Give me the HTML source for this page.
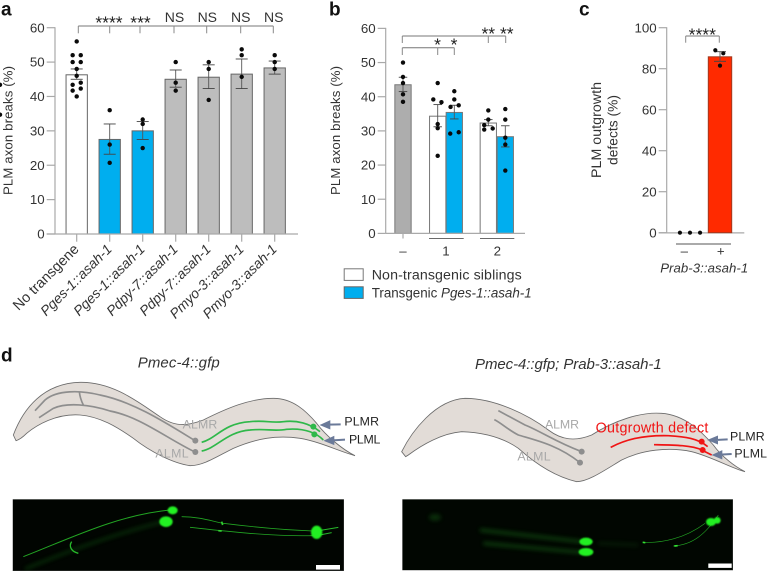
<!DOCTYPE html>
<html lang="en">
<head>
<meta charset="utf-8">
<title>PLM axon breaks figure</title>
<style>
html,body{margin:0;padding:0;background:#fff;}
#fig{display:block;width:768px;height:571px;font-family:"Liberation Sans",sans-serif;fill:#333;}
#fig text{font-family:"Liberation Sans",sans-serif;}
</style>
</head>
<body>
<svg id="fig" width="768" height="571" viewBox="0 0 768 571" xmlns="http://www.w3.org/2000/svg">
<defs>
<filter id="b1" x="-30%" y="-100%" width="160%" height="300%"><feGaussianBlur stdDeviation="1"/></filter>
<filter id="b2" filterUnits="userSpaceOnUse" x="0" y="400" width="1200" height="350"><feGaussianBlur stdDeviation="6"/></filter>
<filter id="b3" x="-60%" y="-60%" width="220%" height="220%"><feGaussianBlur stdDeviation="2.2"/></filter>
<clipPath id="clipL"><rect x="12.7" y="499.3" width="331.3" height="71.7"/></clipPath>
<clipPath id="clipR"><rect x="402.3" y="499.3" width="330.7" height="71"/></clipPath>
</defs>

<g id="panelA"></g>
<g id="panelB"></g>
<g id="panelC"></g>

<text x="1" y="15.7" font-size="19" font-weight="bold" fill="#111">a</text>
<text x="329" y="15.7" font-size="19" font-weight="bold" fill="#111">b</text>
<text x="579" y="15.7" font-size="19" font-weight="bold" fill="#111">c</text>
<text x="1" y="361.7" font-size="19" font-weight="bold" fill="#111">d</text>

<text x="137.7" y="367.7" font-size="15" font-style="italic" textLength="82">Pmec-4::gfp</text>
<text x="475" y="369" font-size="15" font-style="italic" textLength="186.7">Pmec-4::gfp; Prab-3::asah-1</text>

<!-- Left worm -->
<g transform="translate(0,345) scale(0.33333)">
<path d="M40,270 C70,190 130,115 240,112 C340,110 420,175 480,215 C530,250 570,240 610,225 C680,190 750,160 820,160 C880,160 920,200 950,235 C980,275 1030,315 1065,332 C1020,320 960,290 900,280 C830,270 770,280 700,310 C650,335 610,362 570,362 C520,355 450,320 400,280 C350,245 300,215 240,210 C170,205 110,240 80,265 C65,280 55,285 48,287 Z" fill="#e2dcd7" stroke="#6a6a6a" stroke-width="2.5"/>
<g fill="none" stroke="#8e8e8e" stroke-width="5">
<path d="M585,287 C500,235 400,170 300,150 C240,135 170,135 135,165 L105,197"/>
<path d="M585,321 C500,280 420,215 330,198 C270,178 200,172 160,190 L117,218"/>
<path d="M238,140 C240,160 245,170 250,180"/>
</g>
<circle cx="586" cy="287" r="9" fill="#8e8e8e"/>
<circle cx="586" cy="321" r="9" fill="#8e8e8e"/>
<g fill="none" stroke="#2fb84a" stroke-width="5">
<path d="M605,292 C650,280 670,235 750,230 C800,225 810,235 850,230 C890,225 930,235 960,260"/>
<path d="M605,318 C650,310 680,260 750,255 C800,250 820,260 860,253 C900,250 940,255 970,285"/>
</g>
<circle cx="940" cy="245" r="9" fill="#2fb84a"/>
<circle cx="943" cy="268" r="9" fill="#2fb84a"/>
<text x="548" y="251" font-size="37" fill="#a8a8a8" textLength="104">ALMR</text>
<text x="466" y="338" font-size="37" fill="#a8a8a8" textLength="100">ALML</text>
<text x="1033" y="242" font-size="37" fill="#222" textLength="104">PLMR</text>
<text x="1047" y="295" font-size="37" fill="#222" textLength="94">PLML</text>
<g stroke="#6b7a99" stroke-width="6" fill="#6b7a99">
<path d="M1022,238 L985,239 M966,240 L988,230 L988,249 Z"/>
<path d="M1035,284 L998,286 M978,287 L1000,277 L1000,296 Z"/>
</g>
</g>

<!-- Right worm -->
<g transform="translate(385,345) scale(0.33333)">
<path d="M50,320 C80,260 150,165 240,160 C330,160 430,210 490,255 C530,285 570,290 620,270 C690,225 770,200 830,205 C900,210 950,260 985,300 C1010,335 1050,365 1080,380 C1040,370 980,335 920,320 C850,305 770,315 710,345 C660,375 610,410 575,410 C510,395 450,355 400,310 C350,275 290,262 230,260 C170,265 110,300 70,330 L62,335 Z" fill="#e2dcd7" stroke="#6a6a6a" stroke-width="2.5"/>
<g fill="none" stroke="#8e8e8e" stroke-width="5">
<path d="M590,320 C510,290 470,260 420,240 L340,197"/>
<path d="M585,353 C520,300 450,285 400,270 C370,255 350,235 328,224"/>
</g>
<circle cx="590" cy="320" r="9" fill="#8e8e8e"/>
<circle cx="585" cy="353" r="9" fill="#8e8e8e"/>
<g fill="none" stroke="#f01414" stroke-width="5">
<path d="M677,307 C720,285 770,270 850,272 C900,275 940,280 968,305"/>
<path d="M807,299 C860,300 920,300 950,315 L980,330"/>
</g>
<circle cx="950" cy="290" r="9" fill="#f01414"/>
<circle cx="953" cy="315" r="9" fill="#f01414"/>
<text x="632" y="263" font-size="43" fill="#f01414" textLength="338">Outgrowth defect</text>
<text x="480" y="251" font-size="37" fill="#a8a8a8" textLength="102">ALMR</text>
<text x="397" y="346" font-size="37" fill="#a8a8a8" textLength="100">ALML</text>
<text x="1035" y="287" font-size="37" fill="#222" textLength="104">PLMR</text>
<text x="1048" y="338" font-size="37" fill="#222" textLength="98">PLML</text>
<g stroke="#6b7a99" stroke-width="6" fill="#6b7a99">
<path d="M1028,283 L992,285 M974,285 L996,276 L996,294 Z"/>
<path d="M1040,327 L1005,329 M987,330 L1009,320 L1009,339 Z"/>
</g>
</g>

<!-- Left micrograph -->
<g clip-path="url(#clipL)">
<rect x="12.7" y="499.3" width="331.3" height="71.7" fill="#010501" stroke="#777" stroke-width="0.5"/>
<g transform="translate(0,345) scale(0.33333)" fill="none">
<path d="M75,672 C200,620 350,565 490,530" stroke="#1a8a1e" stroke-width="9" opacity=".3" filter="url(#b2)"/>
<path d="M70,635 C200,585 350,510 510,495" stroke="#22a524" stroke-width="3" filter="url(#b1)"/>
<path d="M545,515 C600,515 640,530 670,535 C750,545 850,555 940,558" stroke="#22a524" stroke-width="2.5" filter="url(#b1)"/>
<path d="M570,547 C650,555 800,575 940,572" stroke="#22a524" stroke-width="2.5" filter="url(#b1)"/>
<path d="M950,558 L1015,547" stroke="#28b82a" stroke-width="3" filter="url(#b1)"/>
<path d="M950,572 L995,563" stroke="#28b82a" stroke-width="3" filter="url(#b1)"/>
<path d="M215,590 C205,605 215,620 235,625" stroke="#28b82a" stroke-width="4" filter="url(#b1)"/>
<path d="M665,530 L668,540 M655,557 L665,558" stroke="#30d030" stroke-width="5" filter="url(#b1)"/>
</g>
<g transform="translate(0,345) scale(0.33333)" fill="#22f022" filter="url(#b3)">
<ellipse cx="518" cy="496" rx="15" ry="12"/>
<ellipse cx="498" cy="530" rx="20" ry="16"/>
<ellipse cx="950" cy="562" rx="17" ry="20"/>
</g>
<rect x="316" y="565" width="24" height="4.6" fill="#fff"/>
</g>

<!-- Right micrograph -->
<g clip-path="url(#clipR)">
<rect x="402.3" y="499.3" width="330.7" height="71" fill="#010601" stroke="#777" stroke-width="0.5"/>
<g transform="translate(385,345) scale(0.33333)" fill="none">
<path d="M285,555 L590,590" stroke="#1a8a1e" stroke-width="11" opacity=".38" filter="url(#b2)"/>
<path d="M295,595 L590,622" stroke="#1a8a1e" stroke-width="11" opacity=".38" filter="url(#b2)"/>
<ellipse cx="150" cy="517" rx="18" ry="10" fill="#1a7a1c" opacity=".35" filter="url(#b2)"/>
<path d="M640,595 L760,600" stroke="#1a7a1c" stroke-width="10" opacity=".18" filter="url(#b2)"/>
<path d="M775,592 C830,595 900,580 960,535" stroke="#22a524" stroke-width="2" filter="url(#b1)"/>
<path d="M865,603 C920,600 960,570 1000,510" stroke="#22a524" stroke-width="2" filter="url(#b1)"/>
<path d="M773,592 L781,593 M868,603 L878,602" stroke="#30e030" stroke-width="5" filter="url(#b1)"/>
</g>
<g transform="translate(385,345) scale(0.33333)" fill="#22f022" filter="url(#b3)">
<ellipse cx="603" cy="590" rx="20" ry="12"/>
<ellipse cx="603" cy="621" rx="22" ry="12"/>
<ellipse cx="978" cy="531" rx="15" ry="12"/>
<ellipse cx="997" cy="526" rx="10" ry="10"/>
</g>
<rect x="708.3" y="563.5" width="23.4" height="4.4" fill="#fff"/>
</g>

<script>
const aCategories = ["No transgene","Pges-1::asah-1","Pges-1::asah-1","Pdpy-7::asah-1","Pdpy-7::asah-1","Pmyo-3::asah-1","Pmyo-3::asah-1"];
const aMeans = [46.3,27.5,30,45,45.6,46.5,48.3];
const aErrLow = [45,23.2,27.5,42.7,42.3,42.3,46.5];
const aErrHigh = [48,32,32.7,47.7,49.2,50.9,50.3];
const aDots = [[56,52,52,50,50,48,46,43.4,44,41.7,42.3,40],[36,26,20.7],[33.3,32,25],[50,44,41.7],[50,48,39],[53.7,52,45.7,34.7],[52,50,48,43.4]];
const aJitter = [[0,-.19,.19,-.19,.19,0,0,-.19,.19,-.19,.19,0],[0,0,0],[0,0,0],[0,0,0],[0,0,0],[0,0,0],[0,0,0]];
const aKinds = ["white","blue","blue","grey","grey","grey","grey"];
const aTicks = [0,10,20,30,40,50,60];
const aSig = ["****","***","NS","NS","NS","NS"];

const bGroups = ["–","1","1","2","2"];
const bMeans = [43.5,34.3,35.4,32.3,28.3];
const bErrLow = [41.5,31.2,33.5,31.5,25.3];
const bErrHigh = [45.7,37.7,37.5,33.3,31.5];
const bDots = [[50,45.8,44,40.7,38.5],[44,39.2,38.4,32,30.8,22.7],[41.6,39.2,37,37.5,29.2,29.6],[36,33.3,31.7,30.7,30.4],[36.4,33.3,28,26,18.4]];
const bJitter = [[0,0,0,0,0],[0,-.27,.23,0,0,0],[0,0,-.23,.27,-.25,.27],[0,0,-.25,.27,-.25],[0,0,0,0,0]];
const bKinds = ["dark","white","blue","white","blue"];
const bTicks = [0,10,20,30,40,50,60];

const cGroups = ["–","+"];
const cMeans = [0,85.8];
const cErrLow = [0,83.6];
const cErrHigh = [0,88.3];
const cDots = [[0,0,0],[89,87.5,81.5]];
const cJitter = [[-.43,0,.43],[-.2,.14,0]];
const cKinds = ["white","red"];
const cTicks = [0,20,40,60,80,100];

const NS = "http://www.w3.org/2000/svg";
const fills = {white:"#ffffff",blue:"#00aeef",grey:"#bdbdbd",dark:"#adadad",red:"#ff2a00"};
const axisColor = "#a9a9a9";

function mk(parent,tag,attrs,txt){
  const el = document.createElementNS(NS,tag);
  for(const k in attrs){ el.setAttribute(k,attrs[k]); }
  if(txt!==undefined){ el.textContent = txt; }
  parent.appendChild(el);
  return el;
}
function line(p,x1,y1,x2,y2,stroke,w,name){
  const el = mk(p,"line",{x1:x1,y1:y1,x2:x2,y2:y2,stroke:stroke,"stroke-width":w});
  
  
  return el;
}
function marks(p,cx,y,means,lows,highs,dots,jit,kinds,bw,capW,dotR,stroke){
  means.forEach(function(m,i){
    if(m<=0){ return; }
    const x = cx(i);
    const top = y(m);
    const rect = mk(p,"rect",{x:x-bw/2,y:top,width:bw,height:y(0)-top,fill:fills[kinds[i]],stroke:stroke,"stroke-width":1});
    
    
  });
  means.forEach(function(m,i){
    const x = cx(i);
    if(highs[i]>lows[i]){
      line(p,x,y(lows[i]),x,y(highs[i]),"#555",0.9,"error-bar");
      line(p,x-capW/2,y(lows[i]),x+capW/2,y(lows[i]),"#444",0.9,"error-cap-low");
      line(p,x-capW/2,y(highs[i]),x+capW/2,y(highs[i]),"#444",0.9,"error-cap-high");
    }
    dots[i].forEach(function(v,j){
      const dot = mk(p,"circle",{cx:x+jit[i][j]*bw,cy:y(v),r:dotR,fill:"#0a0a0a"});
      
      
    });
  });
}
function yAxis(p,ticks,y,x0,tickLen,fs){
  line(p,x0,y(ticks[ticks.length-1])-.5,x0,y(0),axisColor,1.2,"y-axis");
  ticks.forEach(function(t){
    line(p,x0-tickLen,y(t),x0,y(t),axisColor,1.2,"y-tick");
    const tx = mk(p,"text",{x:x0-tickLen-2,y:y(t)+4.6,"text-anchor":"end","font-size":fs,fill:"#333"},String(t));
    
    
  });
}
function txt(p,x,y,s,fs,name,extra){
  const a = {x:x,y:y,"font-size":fs,fill:"#333","text-anchor":"middle"};
  for(const k in (extra||{})){ a[k]=extra[k]; }
  const el = mk(p,"text",a,s);
  
  
  return el;
}

/* Panel a */
(function(){
  const p = document.getElementById("panelA");
  const y = function(v){ return 234-v*3.4383; };
  const cx = function(i){ return 76.7+i*33; };
  yAxis(p,aTicks,y,55,8.3,13.3);
  marks(p,cx,y,aMeans,aErrLow,aErrHigh,aDots,aJitter,aKinds,21.3,12,2.2,"#666");
  line(p,46.7,234,298,234,axisColor,1.2,"x-axis");
  aCategories.forEach(function(c,i){
    line(p,cx(i),234,cx(i),241.7,axisColor,1.2,"x-tick");
    const ty = 250;
    const tx = cx(i)+3;
    const el = mk(p,"text",{x:tx,y:ty,"text-anchor":"end","font-size":i===0?14.4:13.9,fill:"#333","font-style":i===0?"normal":"italic",transform:"rotate(-45 "+tx+" "+ty+")"},c);
    
    
  });
  txt(p,0,0,"PLM axon breaks (%)",13.2,"y-axis-title",{transform:"translate(12.5,130.5) rotate(-90)",textLength:129});
  line(p,78.3,26,273.3,26,"#777",1,"significance-bracket");
  [78.3,109.7,140,174,206.7,240.7,273.3].forEach(function(x){
    line(p,x,26,x,33.3,"#888",1,"significance-bracket-tick");
  });
  const sigX = [109,140.5,174.5,207.3,240.7,273.7];
  aSig.forEach(function(s,i){
    if(s==="NS"){ txt(p,sigX[i],22,s,14,"significance-label"); }
    else { txt(p,sigX[i],28.5,s,17.5,"significance-stars",{fill:"#222"}); }
  });
})();

/* Panel b */
(function(){
  const p = document.getElementById("panelB");
  const y = function(v){ return 233.4-v*3.417; };
  const xs = [0,34.7,51.3,85.3,102.3];
  const cx = function(i){ return 403+xs[i]; };
  yAxis(p,bTicks,y,385.7,8,13.3);
  marks(p,cx,y,bMeans,bErrLow,bErrHigh,bDots,bJitter,bKinds,16.3,8.5,2.2,"#777");
  line(p,385.7,233.4,525,233.4,axisColor,1.2,"x-axis");
  line(p,403,233.4,403,238.5,axisColor,1.2,"x-tick");
  line(p,429,238.4,463.7,238.4,"#555",.9,"group-line-1");
  line(p,480,238.4,514.3,238.4,"#555",.9,"group-line-2");
  txt(p,403,255.7,bGroups[0],13.3,"x-group-label");
  txt(p,446,255.7,bGroups[1],13.3,"x-group-label");
  txt(p,497.3,255.7,bGroups[3],13.3,"x-group-label");
  txt(p,0,0,"PLM axon breaks (%)",13.2,"y-axis-title",{transform:"translate(340,130.5) rotate(-90)",textLength:129});
  line(p,402.3,36,505.7,36,"#777",1,"significance-bracket-upper");
  line(p,402.3,36,402.3,43,"#888",1,"bracket-tick");
  line(p,488.3,36,488.3,43,"#888",1,"bracket-tick");
  line(p,505.7,36,505.7,43,"#888",1,"bracket-tick");
  line(p,402.3,47.7,454.3,47.7,"#777",1,"significance-bracket-lower");
  line(p,402.3,47.7,402.3,55,"#888",1,"bracket-tick");
  line(p,437.7,47.7,437.7,55,"#888",1,"bracket-tick");
  line(p,454.3,47.7,454.3,55,"#888",1,"bracket-tick");
  txt(p,437.5,50.5,"*",17.5,"significance-star",{fill:"#222"});
  txt(p,454,50.5,"*",17.5,"significance-star",{fill:"#222"});
  txt(p,488.3,39.5,"**",17.5,"significance-stars",{fill:"#222"});
  txt(p,506.8,39.5,"**",17.5,"significance-stars",{fill:"#222"});
  const l1 = mk(p,"rect",{x:344.2,y:268.8,width:19,height:11.6,fill:"#fff",stroke:"#777","stroke-width":1});
  
  
  const l2 = mk(p,"rect",{x:344.2,y:286.8,width:19,height:11.6,fill:"#00aeef",stroke:"#666","stroke-width":1});
  
  
  txt(p,371.7,279.3,"Non-transgenic siblings",14.2,"legend-label-non-transgenic",{"text-anchor":"start",textLength:150});
  const t2 = txt(p,371.7,297.3,"Transgenic ",13.4,"legend-label-transgenic",{"text-anchor":"start",textLength:160});
  const it = document.createElementNS(NS,"tspan");
  it.setAttribute("font-style","italic");
  it.textContent = "Pges-1::asah-1";
  t2.appendChild(it);
})();

/* Panel c */
(function(){
  const p = document.getElementById("panelC");
  const y = function(v){ return 232.7-v*2.05; };
  const cx = function(i){ return 690+i*30; };
  yAxis(p,cTicks,y,666.7,8,13.3);
  line(p,658.7,232.9,744.3,232.9,axisColor,1.2,"x-axis");
  marks(p,cx,y,cMeans,cErrLow,cErrHigh,cDots,cJitter,cKinds,23.4,12,2.1,"#a03a20");
  line(p,676,244,731,244,"#555",.9,"group-line");
  txt(p,684.3,255.5,cGroups[0],13.3,"x-group-label");
  txt(p,720.7,255.5,cGroups[1],13.3,"x-group-label");
  txt(p,704.2,272.7,"Prab-3::asah-1",13.2,"x-axis-title",{"font-style":"italic",textLength:88});
  txt(p,0,0,"PLM outgrowth",14.2,"y-axis-title-line-1",{transform:"translate(601,130) rotate(-90)",textLength:96});
  txt(p,0,0,"defects (%)",13.8,"y-axis-title-line-2",{transform:"translate(617.5,130) rotate(-90)",textLength:70});
  line(p,685.7,36,719.3,36,"#777",1,"significance-bracket");
  line(p,685.7,36,685.7,42.7,"#888",1,"bracket-tick");
  line(p,719.3,36,719.3,42.7,"#888",1,"bracket-tick");
  txt(p,702.3,40.5,"****",17.5,"significance-stars",{fill:"#222"});
})();
</script>
</svg>
</body>
</html>
